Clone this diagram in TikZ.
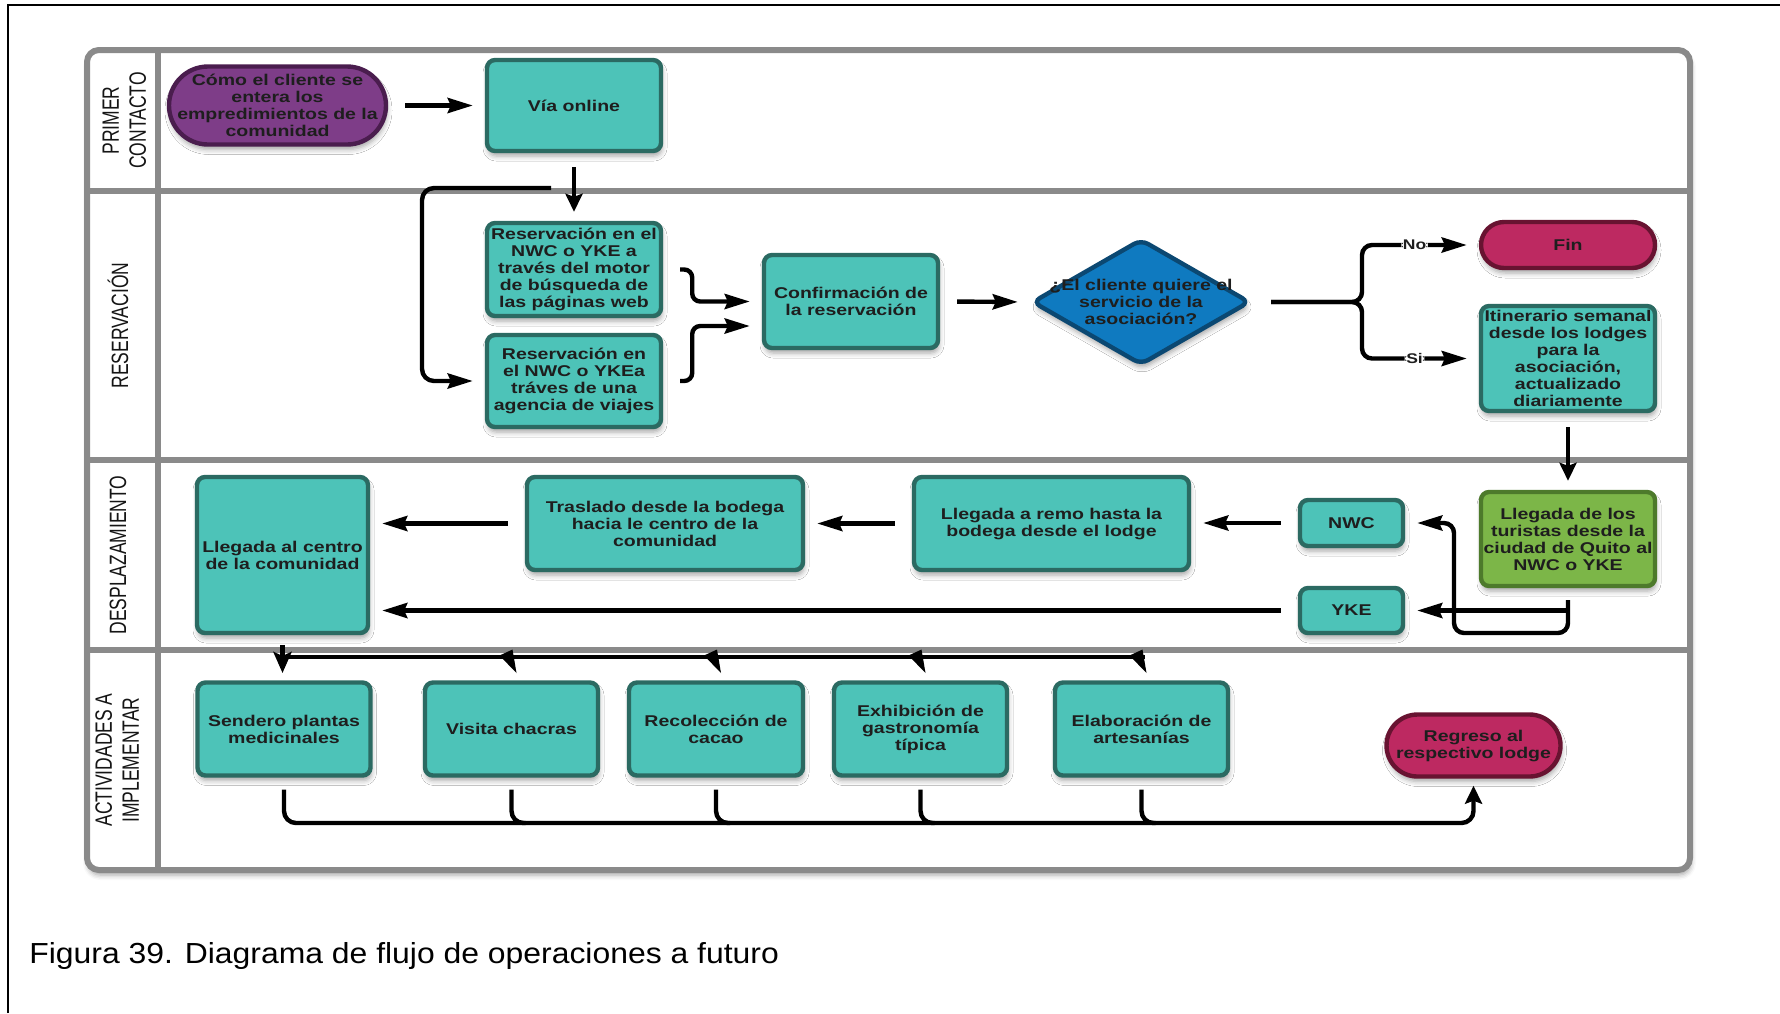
\documentclass[tikz,border=0pt]{standalone}
\usepackage{fontspec}
\setmainfont{Liberation Sans}
\newfontfamily\boxfont[FakeStretch=1.25]{Liberation Sans}
\newfontfamily\capfont[FakeStretch=1.1]{Liberation Sans}
\usetikzlibrary{shapes.geometric, arrows.meta, shadows.blur, calc}

\definecolor{tealfill}{HTML}{4DC3B8}
\definecolor{tealline}{HTML}{2B6A62}
\definecolor{purplefill}{HTML}{7E3D88}
\definecolor{purpleline}{HTML}{4A1D4E}
\definecolor{bluefill}{HTML}{0F7AC0}
\definecolor{blueline}{HTML}{0B4872}
\definecolor{redfill}{HTML}{BD2961}
\definecolor{redline}{HTML}{681331}
\definecolor{greenfill}{HTML}{7CB648}
\definecolor{greenline}{HTML}{4D7A2B}
\definecolor{poolgray}{HTML}{8A8A8A}
\definecolor{inktext}{HTML}{1E1E1E}
\definecolor{lanetext}{HTML}{151515}

\tikzset{
  softshadow/.style={blur shadow={shadow xshift=0.5pt, shadow yshift=-2.5pt,
      shadow blur radius=2.5pt, shadow opacity=35}},
  boxtext/.style={font=\boxfont\bfseries\fontsize{7.8}{8.5}\selectfont, text=inktext},
  base/.style={draw, line width=2.2pt, inner sep=0pt, align=center, boxtext, softshadow},
  proc/.style={base, rectangle, rounded corners=4pt, fill=tealfill, draw=tealline},
  startterm/.style={base, rectangle, fill=purplefill, draw=purpleline},
  endterm/.style={base, rectangle, fill=redfill, draw=redline},
  arrival/.style={base, rectangle, rounded corners=4pt, fill=greenfill, draw=greenline},
  question/.style={base, diamond, rounded corners=4pt, fill=bluefill, draw=blueline},
  lanelabel/.style={rotate=90, inner sep=0pt, text=lanetext,
      font=\fontsize{8.75}{10}\selectfont},
  poolline/.style={draw=poolgray, line width=3pt},
  wire/.style={draw=black, line width=2.2pt},
  harr/.style={wire, -{Stealth[length=12.5pt,width=7.5pt,inset=1.5pt]},
      shorten <=8.5pt, shorten >=6pt},
  varr/.style={wire, -{Stealth[length=9pt,width=8.5pt,inset=1.5pt]},
      shorten <=7pt, shorten >=4.5pt},
  flag/.style={fill=white, inner sep=0.8pt, text=inktext,
      font=\boxfont\bfseries\fontsize{7}{8}\selectfont},
  skewhead/.pic={\fill (-12,-1.5) -- (1,-7.5) -- (5,16) -- cycle;}
}

\begin{document}
\begin{tikzpicture}[x=0.5pt, y=-0.5pt]
\useasboundingbox (0,0) rectangle (1780,1013);

% page frame
\draw[line width=1pt] (8,1013) -- (8,5) -- (1780,5);

% swimlane pool
\draw[poolline, fill=white, rounded corners=6pt, softshadow] (87,50) rectangle (1690,870);
\draw[poolline] (87,191) -- (1690,191);
\draw[poolline] (87,460) -- (1690,460);
\draw[poolline] (87,650) -- (1690,650);
\draw[poolline] (158,50) -- (158,870);

% lane titles
\node[lanelabel] (laneA) at (127,120.5) {\scalebox{1}[1.35]{\begin{tabular}{@{}c@{}}PRIMER\\CONTACTO\end{tabular}}};
\node[lanelabel] (laneB) at (118,325.5) {\scalebox{1}[1.35]{RESERVACIÓN}};
\node[lanelabel] (laneC) at (118,555) {\scalebox{1}[1.35]{DESPLAZAMIENTO}};
\node[lanelabel] (laneD) at (120,760) {\scalebox{1}[1.35]{\begin{tabular}{@{}c@{}}ACTIVIDADES A\\IMPLEMENTAR\end{tabular}}};

% primer contacto
\node[startterm, minimum width=108.5pt, minimum height=39pt, rounded corners=19.5pt] (start) at (277.5,105.5)
  {Cómo el cliente se\\entera los\\empredimientos de la\\comunidad};
\node[proc, minimum width=87pt, minimum height=45.5pt] (via) at (574,105.5) {Vía online};

% reservación
\node[proc, minimum width=87pt, minimum height=46.5pt] (r1) at (574,269.5)
  {Reservación en el\\NWC o YKE a\\través del motor\\de búsqueda de\\las páginas web};
\node[proc, minimum width=87pt, minimum height=46pt] (r2) at (574,381)
  {Reservación en\\el NWC o YKEa\\tráves de una\\agencia de viajes};
\node[proc, minimum width=87pt, minimum height=46.5pt] (conf) at (851,301.5)
  {Confirmación de\\la reservación};
\node[question, minimum width=109pt, minimum height=63pt,
  label={[boxtext, align=center, inner sep=0pt]center:{¿El cliente quiere el\\servicio de la\\asociación?}}]
  (dec) at (1141,302) {};
\node[endterm, minimum width=87pt, minimum height=23pt, rounded corners=11.5pt] (fin) at (1568,245) {Fin};
\node[proc, minimum width=87pt, minimum height=52.5pt] (itin) at (1568,358.5)
  {Itinerario semanal\\desde los lodges\\para la\\asociación,\\actualizado\\diariamente};

% desplazamiento
\node[arrival, minimum width=87pt, minimum height=47pt] (tur) at (1568,539)
  {Llegada de los\\turistas desde la\\ciudad de Quito al\\NWC o YKE};
\node[proc, minimum width=51.5pt, minimum height=23pt] (nwc) at (1351.5,523) {NWC};
\node[proc, minimum width=51.5pt, minimum height=22.5pt] (yke) at (1351.5,610.5) {YKE};
\node[proc, minimum width=137.5pt, minimum height=46.5pt] (remo) at (1051.5,523.5)
  {Llegada a remo hasta la\\bodega desde el lodge};
\node[proc, minimum width=138pt, minimum height=46.5pt] (tras) at (665,523.5)
  {Traslado desde la bodega\\hacia le centro de la\\comunidad};
\node[proc, minimum width=85.5pt, minimum height=78pt] (centro) at (282.5,555)
  {Llegada al centro\\de la comunidad};

% actividades
\node[proc, minimum width=86.5pt, minimum height=46.5pt] (sendero) at (284,729) {Sendero plantas\\medicinales};
\node[proc, minimum width=86.5pt, minimum height=46.5pt] (visita) at (511.5,729) {Visita chacras};
\node[proc, minimum width=87pt, minimum height=46.5pt] (recol) at (716,729) {Recolección de\\cacao};
\node[proc, minimum width=86.5pt, minimum height=46.5pt] (exhib) at (920.5,729) {Exhibición de\\gastronomía\\típica};
\node[proc, minimum width=86.5pt, minimum height=46.5pt] (elab) at (1141.5,729) {Elaboración de\\artesanías};
\node[endterm, minimum width=87pt, minimum height=31pt, rounded corners=15.5pt] (regreso) at (1473.5,745.5)
  {Regreso al\\respectivo lodge};

% helper points for the connectors
\coordinate (split) at (551,188);
\coordinate (leftrail) at (422,188);
\coordinate (fork) at (1362,302);
\coordinate (loopcorner) at (1454,633);
\coordinate (dist) at (282.5,657);
\coordinate (gath) at (0,823);

% connectors: primer contacto and reservación
\draw[harr] (start.east) -- (via.west);
\draw[varr] (via.south) -- (r1.north);
\draw[harr, shorten <=0pt, rounded corners=6pt] (split) -- (leftrail) -- (leftrail |- r2.west) -- (r2.west);
\draw[harr, rounded corners=4pt] (r1.east) -- ++(29,0) |- (conf.west);
\draw[harr, rounded corners=4pt] (r2.east) -- ++(29,0) |- ($(conf.west)+(0,24.5)$);
\draw[harr] (conf.east) -- (dec.west);
\draw[harr, rounded corners=5pt, shorten <=9.5pt] (dec.east) -| (fork |- fin.west)
  -- node[flag, pos=0.45] {No} (fin.west);
\draw[harr, rounded corners=5pt, shorten <=9.5pt] (dec.east) -| (fork |- itin.west)
  -- node[flag, pos=0.45] {Si} (itin.west);
\draw[varr] (itin.south) -- (tur.north);

% connectors: desplazamiento
\draw[harr, rounded corners=5pt, shorten <=6pt] (tur.south) |- (loopcorner) |- (nwc.east);
\draw[harr, shorten <=0pt] (tur.south |- yke.east) -- (yke.east);
\draw[harr] (nwc.west) -- (remo.east |- nwc.west);
\draw[harr] (remo.west) -- (tras.east);
\draw[harr] (tras.west) -- (tras.west -| centro.east);
\draw[harr] (yke.west) -- (yke.west -| centro.east);

% connectors: actividades
\draw[wire] (dist) -- ($(elab.north |- dist)+(3,0)$);
\draw[wire, -{Stealth[length=10.5pt,width=9pt,inset=2pt]}] ($(centro.south)+(0,10)$) -- ($(dist)+(0,16)$);
\path (visita.north |- dist) pic {skewhead};
\path (recol.north |- dist) pic {skewhead};
\path (exhib.north |- dist) pic {skewhead};
\path (elab.north |- dist) pic {skewhead};

\draw[wire, rounded corners=6pt, -{Stealth[length=9pt,width=8.5pt,inset=1.5pt]}]
  ($(sendero.south)+(0,12)$) -- (sendero.south |- gath) -- (regreso.south |- gath) -- ($(regreso.south)+(0,7)$);
\foreach \act in {visita, recol, exhib, elab}
  \draw[wire, rounded corners=6pt] ($(\act.south)+(0,12)$) -- (\act.south |- gath) -- ++(14,0);

% caption
\node[anchor=base west, inner sep=0pt, font=\capfont\fontsize{14.5}{16}\selectfont] (caption) at (29,963)
  {Figura 39. Diagrama de flujo de operaciones a futuro};
\end{tikzpicture}
\end{document}
